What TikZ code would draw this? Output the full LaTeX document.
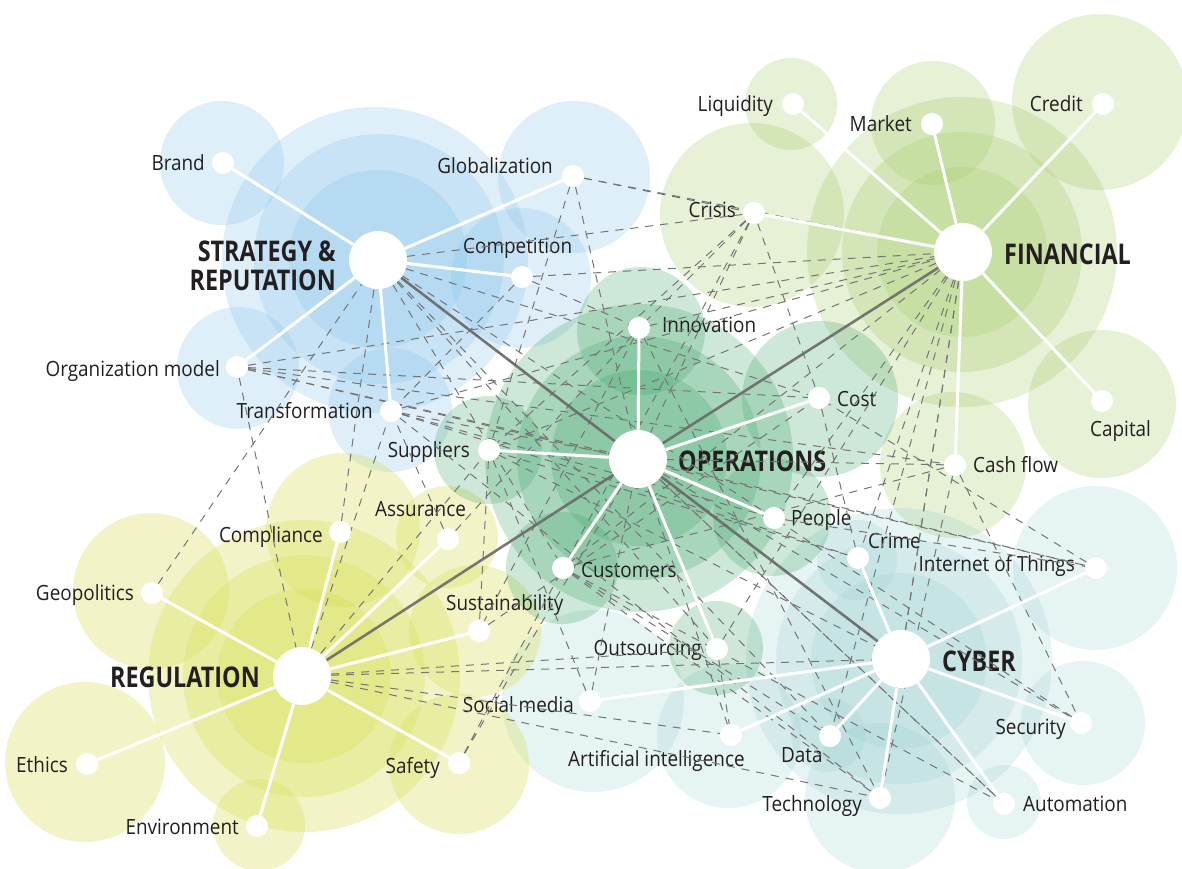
\documentclass[tikz,border=0pt]{standalone}
\usepackage{fontspec}
\setmainfont{Open Sans}[FakeStretch=0.9]
\newfontfamily\hubfont{Open Sans}[FakeStretch=0.82]
\definecolor{csr}{HTML}{7FC0E8}
\definecolor{cfin}{HTML}{A5CB6B}
\definecolor{cops}{HTML}{3FA468}
\definecolor{creg}{HTML}{D4DC4A}
\definecolor{ccyb}{HTML}{93CBCB}
\definecolor{txt}{HTML}{231F20}
\definecolor{linkgray}{HTML}{6A6A6A}
\definecolor{dgray}{HTML}{747474}
\pgfdeclarelayer{fg}
\pgfsetlayers{main,fg}
\tikzset{
  srfill/.style={fill=csr, fill opacity=0.25},
  finfill/.style={fill=cfin, fill opacity=0.28},
  opsfill/.style={fill=cops, fill opacity=0.26},
  regfill/.style={fill=creg, fill opacity=0.30},
  cybfill/.style={fill=ccyb, fill opacity=0.22},
  hubnode/.style={circle, fill=white, inner sep=0pt, minimum size=58pt},
  subnode/.style={circle, fill=white, inner sep=0pt, minimum size=22pt},
  spoke/.style={draw=white, line width=3pt},
  hublink/.style={draw=linkgray, line width=2.6pt, draw opacity=0.9},
  dline/.style={draw=dgray, line width=1pt, dash pattern=on 8pt off 7pt},
  lbl/.style={font=\fontsize{21}{25}\selectfont, text=txt, inner sep=0pt},
  hlbl/.style={font=\hubfont\bfseries\fontsize{28.5}{29}\selectfont, text=txt, inner sep=0pt, align=right}
}
\begin{document}
\begin{tikzpicture}[x=1pt,y=-1pt]
\useasboundingbox (0,0) rectangle (1182,868);
% ---------- circles ----------
\foreach \x/\y/\r in {375/260/153, 379/259/125, 378/259/89, 222/163/62, 574/177/76, 521/278/70, 238/368/61, 390/410/62}
  \fill[srfill] (\x,\y) circle[radius=\r pt];
\foreach \x/\y/\r in {962/252/155, 962/252/120, 962/252/85, 791/104/46, 933/123/62, 1100/102/88, 752/215/92, 1102/404/74, 953/465/73}
  \fill[finfill] (\x,\y) circle[radius=\r pt];
\foreach \x/\y/\r in {899/661/153, 899/661/123, 899/661/88, 857/560/40, 1095/568/82, 593/701/91, 1083/723/62, 1004/802/37, 880/798/75, 828/735/37, 729/736/72}
  \fill[cybfill] (\x,\y) circle[radius=\r pt];
\foreach \x/\y/\r in {304/676/156, 304/676/121, 304/676/87, 343/530/77, 447/537/51, 151/591/78, 475/631/66, 85/762/80, 459/764/70, 259/825/46}
  \fill[regfill] (\x,\y) circle[radius=\r pt];
\foreach \x/\y/\r in {639/458/154, 639/458/122, 639/458/88, 641/331/64, 820/399/78, 488/450/54, 772/517/59, 562/568/56, 716/648/47}
  \fill[opsfill] (\x,\y) circle[radius=\r pt];
% ---------- nodes ----------
\begin{pgfonlayer}{fg}
\node[hubnode] (srhub) at (378,260) {};
\node[subnode] (brand) at (223,163) {};
\node[subnode] (glob) at (573,176) {};
\node[subnode] (comp) at (522,277) {};
\node[subnode] (org) at (237,367) {};
\node[subnode] (trans) at (391,411) {};
\node[hubnode] (finhub) at (963,252) {};
\node[subnode] (liq) at (793,104) {};
\node[subnode] (market) at (932,124) {};
\node[subnode] (credit) at (1103,104) {};
\node[subnode] (crisis) at (754,213) {};
\node[subnode] (capital) at (1102,401) {};
\node[subnode] (cash) at (955,465) {};
\node[hubnode] (opshub) at (638,459) {};
\node[subnode] (innov) at (639,328) {};
\node[subnode] (cost) at (819,398) {};
\node[subnode] (supp) at (489,450) {};
\node[subnode] (people) at (774,518) {};
\node[subnode] (cust) at (563,568) {};
\node[subnode] (outs) at (717,649) {};
\node[hubnode] (reghub) at (302,676) {};
\node[subnode] (compl) at (340,532) {};
\node[subnode] (assur) at (448,539) {};
\node[subnode] (geo) at (152,593) {};
\node[subnode] (sust) at (479,631) {};
\node[subnode] (ethics) at (87,764) {};
\node[subnode] (safety) at (459,763) {};
\node[subnode] (env) at (257,826) {};
\node[hubnode] (cybhub) at (901,659) {};
\node[subnode] (crime) at (858,558) {};
\node[subnode] (iot) at (1096,568) {};
\node[subnode] (social) at (590,701) {};
\node[subnode] (security) at (1081,723) {};
\node[subnode] (ai) at (731,735) {};
\node[subnode] (data) at (830,736) {};
\node[subnode] (tech) at (880,798) {};
\node[subnode] (auto) at (1004,804) {};
\end{pgfonlayer}
% ---------- labels ----------
\node[hlbl, anchor=base east] (srL) at (336,290) {STRATEGY \&\\REPUTATION};
\node[hlbl, anchor=base west] (finL) at (1004,264) {FINANCIAL};
\node[hlbl, anchor=base west] (opsL) at (678,471) {OPERATIONS};
\node[hlbl, anchor=base east] (regL) at (260,687) {REGULATION};
\node[hlbl, anchor=base west] (cybL) at (942,671) {CYBER};
\node[lbl, anchor=base east] (brandL) at (205,170) {Brand};
\node[lbl, anchor=base east] (globL) at (553,173) {Globalization};
\node[lbl, anchor=base west] (compL) at (463,253) {Competition};
\node[lbl, anchor=base east] (orgL) at (220,376) {Organization model};
\node[lbl, anchor=base east] (transL) at (373,418) {Transformation};
\node[lbl, anchor=base east] (liqL) at (773,111) {Liquidity};
\node[lbl, anchor=base east] (marketL) at (912,131) {Market};
\node[lbl, anchor=base east] (creditL) at (1083,111) {Credit};
\node[lbl, anchor=base east] (crisisL) at (736,217) {Crisis};
\node[lbl, anchor=base west] (capitalL) at (1090,436) {Capital};
\node[lbl, anchor=base west] (cashL) at (973,472) {Cash flow};
\node[lbl, anchor=base west] (innovL) at (662,332) {Innovation};
\node[lbl, anchor=base west] (costL) at (837,406) {Cost};
\node[lbl, anchor=base east] (suppL) at (470,457) {Suppliers};
\node[lbl, anchor=base west] (peopleL) at (791,525) {People};
\node[lbl, anchor=base west] (custL) at (581,577) {Customers};
\node[lbl, anchor=base east] (outsL) at (702,655) {Outsourcing};
\node[lbl, anchor=base east] (complL) at (323,542) {Compliance};
\node[lbl, anchor=base west] (assurL) at (375,516) {Assurance};
\node[lbl, anchor=base east] (geoL) at (134,600) {Geopolitics};
\node[lbl, anchor=base west] (sustL) at (446,610) {Sustainability};
\node[lbl, anchor=base east] (ethicsL) at (68,772) {Ethics};
\node[lbl, anchor=base east] (safetyL) at (440,773) {Safety};
\node[lbl, anchor=base east] (envL) at (239,834) {Environment};
\node[lbl, anchor=base west] (crimeL) at (868,548) {Crime};
\node[lbl, anchor=base east] (iotL) at (1075,571) {Internet of Things};
\node[lbl, anchor=base east] (socialL) at (574,712) {Social media};
\node[lbl, anchor=base east] (securityL) at (1066,734) {Security};
\node[lbl, anchor=base west] (aiL) at (568,766) {Artificial intelligence};
\node[lbl, anchor=base west] (dataL) at (781,762) {Data};
\node[lbl, anchor=base east] (techL) at (862,811) {Technology};
\node[lbl, anchor=base west] (autoL) at (1023,811) {Automation};
% ---------- dashed cross links ----------
\foreach \a/\b in {glob/crisis, glob/finhub, glob/opshub, glob/supp,
  srhub/crisis, srhub/cost, srhub/people, srhub/outs, srhub/cybhub, srhub/cust, srhub/data,
  comp/trans, comp/finhub, comp/innov,
  org/finhub, org/opshub, org/cost, org/cash, org/reghub, org/iot,
  trans/finhub, trans/opshub, trans/people, trans/crime, trans/tech,
  finhub/innov, finhub/supp, finhub/cust, finhub/cybhub, finhub/outs, finhub/crime, finhub/data, finhub/people, finhub/tech,
  crisis/opshub, crisis/supp, crisis/cost, crisis/innov, crisis/cust,
  cash/opshub, cash/cust, cash/tech, cash/security,
  opshub/security, opshub/iot, opshub/auto,
  supp/cybhub, supp/sust, cust/tech, cust/auto, people/iot, cost/crime, innov/tech, innov/sust, outs/ai,
  reghub/outs, reghub/cybhub, reghub/tech, reghub/ai, reghub/trans, reghub/supp,
  compl/srhub, geo/srhub, assur/trans, assur/innov, sust/cost, safety/opshub, safety/cust,
  social/opshub, social/supp, security/people, auto/opshub, ai/opshub, data/cust, crime/supp, iot/cost}
  \draw[dline] (\a) -- (\b);
% ---------- hub links ----------
\draw[hublink] (srhub) -- (opshub);
\draw[hublink] (finhub) -- (opshub);
\draw[hublink] (reghub) -- (opshub);
\draw[hublink] (cybhub) -- (opshub);
% ---------- spokes ----------
\foreach \b in {brand, glob, comp, org, trans} \draw[spoke] (srhub) -- (\b);
\foreach \b in {liq, market, credit, crisis, capital, cash} \draw[spoke] (finhub) -- (\b);
\foreach \b in {innov, cost, supp, people, cust, outs} \draw[spoke] (opshub) -- (\b);
\foreach \b in {compl, assur, geo, sust, ethics, safety, env} \draw[spoke] (reghub) -- (\b);
\foreach \b in {crime, iot, social, security, ai, data, tech, auto} \draw[spoke] (cybhub) -- (\b);
\end{tikzpicture}
\end{document}
